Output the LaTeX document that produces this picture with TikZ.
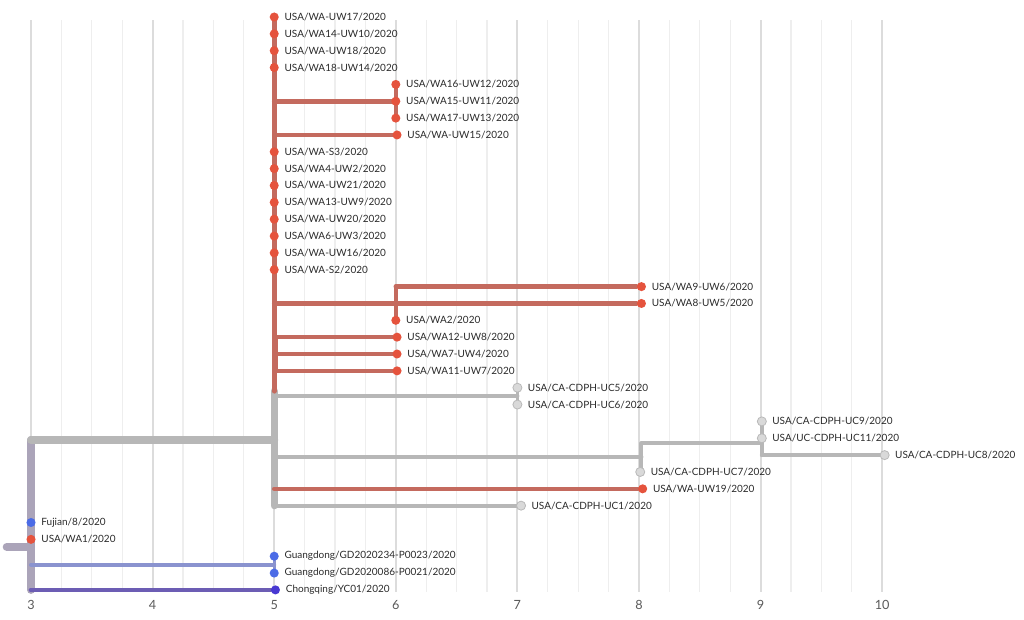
\documentclass[tikz,border=0pt]{standalone}
\usepackage{fontspec}
\setmainfont{Lato}
\usepackage{xcolor}
\usetikzlibrary{positioning}
\usetikzlibrary{backgrounds}

\definecolor{tipred}{HTML}{E5533D}
\definecolor{branchred}{HTML}{C46A5E}
\definecolor{branchgrey}{HTML}{B7B7B7}
\definecolor{tipgrey}{HTML}{D9D9D9}
\definecolor{tipgreyline}{HTML}{B9B9B9}
\definecolor{tipblue}{HTML}{4B6BE6}
\definecolor{branchgd}{HTML}{8A93CF}
\definecolor{branchcq}{HTML}{6C5DB4}
\definecolor{tipcq}{HTML}{4838D2}
\definecolor{branchroot}{HTML}{ABA4B9}
\definecolor{gridmajor}{HTML}{DCDCDC}
\definecolor{gridminor}{HTML}{EEEEEE}
\definecolor{labeltext}{HTML}{2A2A2A}

\tikzset{
  tip/.style={circle,inner sep=0pt,minimum size=6.8pt},
  redtip/.style={tip,fill=tipred},
  greytip/.style={tip,fill=tipgrey,draw=tipgreyline,line width=0.6pt},
  bluetip/.style={tip,fill=tipblue},
  cqtip/.style={tip,fill=tipcq},
  every label/.style={font=\fontsize{7.5}{9}\selectfont,text=labeltext,inner sep=0pt},
  label distance=4pt,
  branch/.style={line cap=round,line join=round},
  redbranch/.style={branch,draw=branchred,line width=3.4pt},
  greybranch/.style={branch,draw=branchgrey,line width=3pt},
  trunk/.style={branch,draw=branchgrey,line width=5.5pt},
  minorgrid/.style={draw=gridminor,line width=0.8pt},
  majorgrid/.style={draw=gridmajor,line width=1.5pt},
  axislabel/.style={font=\fontsize{9.5}{11}\selectfont,text=black!65}
}

\begin{document}
\begin{tikzpicture}[x=91.2pt,y=-12.6375pt]
       \useasboundingbox (2.745,-1.009) rectangle (11.166,35.786);

       \node[redtip,label=right:{USA/WA-UW17/2020}] (uw17) at (5,0) {};
       \node[redtip,label=right:{USA/WA14-UW10/2020}] (uw10) at (5,1) {};
       \node[redtip,label=right:{USA/WA-UW18/2020}] (uw18) at (5,2) {};
       \node[redtip,label=right:{USA/WA18-UW14/2020}] (uw14) at (5,3) {};
       \node[redtip,label=right:{USA/WA16-UW12/2020}] (uw12) at (6,4) {};
       \node[redtip,label=right:{USA/WA15-UW11/2020}] (uw11) at (6,5) {};
       \node[redtip,label=right:{USA/WA17-UW13/2020}] (uw13) at (6,6) {};
       \node[redtip,label=right:{USA/WA-UW15/2020}] (uw15) at (6.01,7) {};
       \node[redtip,label=right:{USA/WA-S3/2020}] (s3) at (5,8) {};
       \node[redtip,label=right:{USA/WA4-UW2/2020}] (uw2) at (5,9) {};
       \node[redtip,label=right:{USA/WA-UW21/2020}] (uw21) at (5,10) {};
       \node[redtip,label=right:{USA/WA13-UW9/2020}] (uw9) at (5,11) {};
       \node[redtip,label=right:{USA/WA-UW20/2020}] (uw20) at (5,12) {};
       \node[redtip,label=right:{USA/WA6-UW3/2020}] (uw3) at (5,13) {};
       \node[redtip,label=right:{USA/WA-UW16/2020}] (uw16) at (5,14) {};
       \node[redtip,label=right:{USA/WA-S2/2020}] (s2) at (5,15) {};
       \node[redtip,label=right:{USA/WA9-UW6/2020}] (uw6) at (8.02,16) {};
       \node[redtip,label=right:{USA/WA8-UW5/2020}] (uw5) at (8.02,17) {};
       \node[redtip,label=right:{USA/WA2/2020}] (wa2) at (6,18) {};
       \node[redtip,label=right:{USA/WA12-UW8/2020}] (uw8) at (6.01,19) {};
       \node[redtip,label=right:{USA/WA7-UW4/2020}] (uw4) at (6.01,20) {};
       \node[redtip,label=right:{USA/WA11-UW7/2020}] (uw7) at (6.01,21) {};
       \node[greytip,label=right:{USA/CA-CDPH-UC5/2020}] (uc5) at (7,22) {};
       \node[greytip,label=right:{USA/CA-CDPH-UC6/2020}] (uc6) at (7,23) {};
       \node[greytip,label=right:{USA/CA-CDPH-UC9/2020}] (uc9) at (9.01,24) {};
       \node[greytip,label=right:{USA/UC-CDPH-UC11/2020}] (uc11) at (9.01,25) {};
       \node[greytip,label=right:{USA/CA-CDPH-UC8/2020}] (uc8) at (10.02,26) {};
       \node[greytip,label=right:{USA/CA-CDPH-UC7/2020}] (uc7) at (8.01,27) {};
       \node[redtip,label=right:{USA/WA-UW19/2020}] (uw19) at (8.03,28) {};
       \node[greytip,label=right:{USA/CA-CDPH-UC1/2020}] (uc1) at (7.03,29) {};
       \node[bluetip,label=right:{Fujian/8/2020}] (fujian) at (3,30) {};
       \node[redtip,label=right:{USA/WA1/2020}] (wa1) at (3,31) {};
       \node[bluetip,label=right:{Guangdong/GD2020234-P0023/2020}] (gd23) at (5,32) {};
       \node[bluetip,label=right:{Guangdong/GD2020086-P0021/2020}] (gd21) at (5,33) {};
       \node[cqtip,label=right:{Chongqing/YC01/2020}] (cq) at (5.01,34) {};

       \coordinate (stub) at (2.8,31.45);
       \coordinate (root) at (3,31.45);
       \coordinate (clade) at (5,25.1);
       \coordinate (cladesplit) at (5,22.2);
       \coordinate (nodeB) at (6,5);
       \coordinate (nodeC) at (6,17);
       \coordinate (nodeD) at (5.02,20);
       \coordinate (nodeE) at (7,22.5);
       \coordinate (nodeF) at (8.02,26.1);
       \coordinate (nodeG) at (9.01,25.3);
       \coordinate (nodeGD) at (5,32.5);

       \foreach \x in {3,...,10}
           \node[axislabel] (ax\x) at (\x,34.9) {\x};

       \begin{scope}[on background layer]
       \foreach \g in {0,...,28}
           \draw[minorgrid] ({3+\g/4},0.18) -- ({3+\g/4},34.1);
       \foreach \x in {3,...,10}
           \draw[majorgrid] (\x,0.18) -- (\x,34.1);

       % root and the three lineages off it
       \draw[branch,draw=branchroot,line width=6pt] (stub) -- (root);
       \draw[branch,draw=branchroot,line width=6pt] (root |- clade) -- (root |- cq);
       \draw[trunk,line width=6pt] (root |- clade) -- (clade);
       \draw[branch,draw=branchgd,line width=3pt] (root |- nodeGD) -- (nodeGD);
       \draw[branch,draw=branchgd,line width=2.4pt] (nodeGD |- gd23) -- (nodeGD |- gd21);
       \draw[branch,draw=branchcq,line width=3.6pt] (root |- cq) -- (cq);

       % the big clade
       \draw[trunk] (cladesplit) -- (clade |- uc1);
       \draw[redbranch,line width=3.8pt] (clade |- uw17) -- (cladesplit);
       \draw[greybranch] (clade |- nodeE) -- (nodeE);
       \draw[greybranch,line width=2.4pt] (nodeE |- uc5) -- (nodeE |- uc6);
       \draw[greybranch] (clade |- nodeF) -- (nodeF);
       \draw[greybranch] (nodeF |- nodeG) -- (nodeF |- uc7);
       \draw[greybranch] (nodeF |- nodeG) -- (nodeG);
       \draw[greybranch] (nodeG |- uc9) -- (nodeG |- uc8);
       \draw[greybranch] (nodeG |- uc8) -- (uc8);
       \draw[greybranch] (clade |- uc1) -- (uc1);
       \draw[redbranch] (clade |- uw19) -- (uw19);

       \draw[redbranch] (clade |- nodeB) -- (nodeB);
       \draw[redbranch,line width=2.8pt] (nodeB |- uw12) -- (nodeB |- uw13);
       \draw[redbranch] (clade |- uw15) -- (uw15);
       \draw[redbranch] (clade |- uw5) -- (uw5);
       \draw[redbranch] (nodeC |- uw6) -- (nodeC |- wa2);
       \draw[redbranch] (nodeC |- uw6) -- (uw6);
       \draw[redbranch,line width=2.6pt] (nodeD |- uw8) -- (nodeD |- uw7);
       \draw[redbranch] (nodeD |- uw8) -- (uw8);
       \draw[redbranch] (nodeD |- uw4) -- (uw4);
       \draw[redbranch] (nodeD |- uw7) -- (uw7);
       \end{scope}

\end{tikzpicture}
\end{document}
